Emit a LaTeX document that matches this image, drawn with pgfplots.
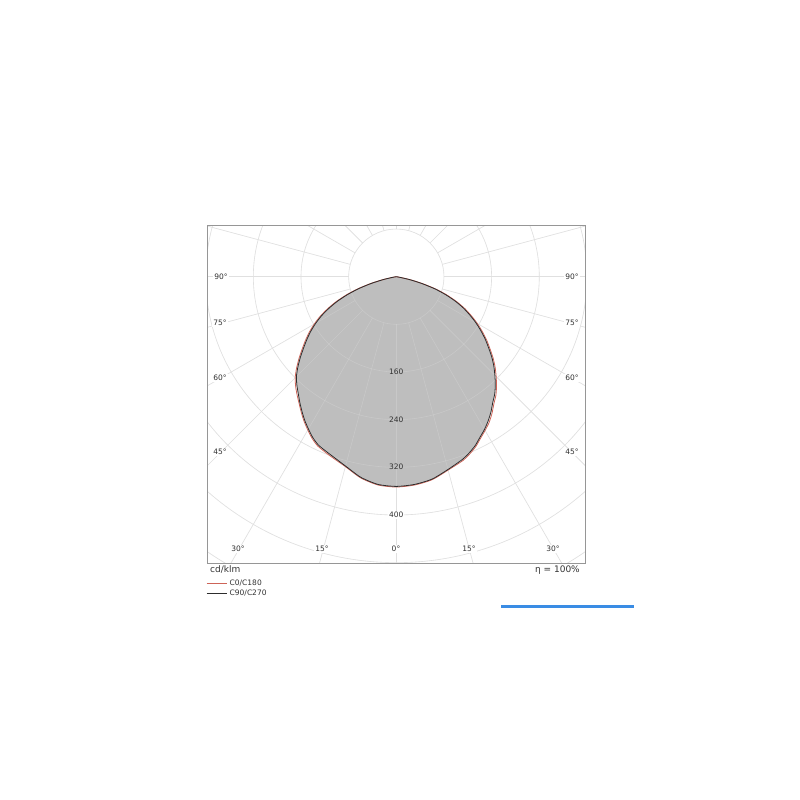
\documentclass[border=0pt]{standalone}
\usepackage{pgfplots}
\pgfplotsset{compat=1.18}
\usepackage{pgfplotstable}
\usepackage{fontspec}
\setmainfont{DejaVu Sans}
\definecolor{gridc}{RGB}{224,224,224}
\definecolor{fillc}{RGB}{190,190,190}
\definecolor{redc}{RGB}{205,100,88}
\definecolor{blackc}{RGB}{45,45,45}
\definecolor{framec}{RGB}{150,150,150}
\definecolor{txtc}{RGB}{50,50,50}
\definecolor{bluec}{RGB}{58,140,228}

% C90/C270 (black)
\pgfplotstableread{
a I
-82.5 0
-80 6
-77.5 22
-75 43
-72.5 65
-70 86
-67.5 106
-65 124
-62.5 141
-60 156
-57.5 170
-55 183
-52.5 196
-50 210
-47.5 224
-45 237
-42.5 247
-40 256
-37.5 266
-35 276
-32.5 286
-30 295
-27.5 304
-25 311
-22.5 315
-20 319
-15 329
-10 342
-5 350
0 352
5 350
10 345
15 335
20 326
22.5 320
25 313
27.5 304
30 296
32.5 287
35 277
37.5 266
40 257
42.5 246
45 234
47.5 222
50 209
52.5 195
55 182
57.5 168
60 154
62.5 139
65 124
67.5 107
70 88
72.5 68
75 45
77.5 24
80 6
82.5 0
}\cblack

% C0/C180 (red)
\pgfplotstableread{
a I
-82.5 0
-80 7
-77.5 24
-75 45
-72.5 68
-70 89
-67.5 109
-65 127
-62.5 144
-60 159
-57.5 173
-55 186
-52.5 199
-50 213
-47.5 227
-45 240
-42.5 250
-40 259
-37.5 268
-35 278
-32.5 288
-30 297
-27.5 306
-25 313
-22.5 317
-20 321
-15 330
-10 343
-5 351
0 353
5 351
10 346
15 336
20 328
22.5 322
25 315
27.5 306
30 298
32.5 290
35 280
37.5 269
40 260
42.5 249
45 237
47.5 225
50 212
52.5 198
55 185
57.5 171
60 157
62.5 142
65 127
67.5 110
70 91
72.5 71
75 47
77.5 26
80 7
82.5 0
}\cred

\pgfplotsset{
  polarbox/.style={
    at={(207.7pt,236.7pt)}, anchor=south west,
    scale only axis, width=377.6pt, height=337.6pt,
    xmin=-316.5, xmax=317.2, ymin=-481, ymax=85.6,
    xtick=\empty, ytick=\empty,
  }
}

\newcommand{\polargrid}[1]{%
\begin{scope}[opacity=#1]
\clip (207.7pt,236.7pt) rectangle (585.3pt,574.3pt);
\foreach \k in {1,...,8} {
  \draw[gridc, line width=0.6pt] (396.3pt,523.3pt) circle[radius=\k*47.66pt];
}
\foreach \ang in {-90,-75,...,255} {
  \draw[gridc, line width=0.6pt, shift={(396.3pt,523.3pt)}] (\ang:47.66pt) -- (\ang:460pt);
}
\end{scope}}

\begin{document}
\begin{tikzpicture}
% page extent
\path (0pt,0pt) rectangle (800pt,800pt);

% grid below the fill
\polargrid{1}

% fill
\begin{axis}[polarbox, hide axis]
\addplot[draw=none, fill=fillc, smooth, tension=0.4] table[x expr={\thisrow{I}*sin(\thisrow{a})}, y expr={-\thisrow{I}*cos(\thisrow{a})}] {\cblack} -- cycle;
\end{axis}

% faint grid over the fill
\polargrid{0.3}

% curves and frame
\begin{axis}[polarbox, axis line style={framec, line width=0.8pt}]
\addplot[redc, line width=0.8pt, smooth, tension=0.4] table[x expr={\thisrow{I}*sin(\thisrow{a})}, y expr={-\thisrow{I}*cos(\thisrow{a})}] {\cred};
\addplot[blackc, line width=0.8pt, smooth, tension=0.4] table[x expr={\thisrow{I}*sin(\thisrow{a})}, y expr={-\thisrow{I}*cos(\thisrow{a})}] {\cblack};
\end{axis}

% angle labels
\begin{scope}[every node/.style={font=\fontsize{7.5}{9}\selectfont, text=txtc, fill=white, inner sep=1pt}]
\node at (221pt,523.5pt) {90°};
\node at (572pt,523.5pt) {90°};
\node at (220pt,477pt) {75°};
\node at (572pt,477pt) {75°};
\node at (220pt,422pt) {60°};
\node at (572pt,422pt) {60°};
\node at (220pt,348pt) {45°};
\node at (572pt,348pt) {45°};
\node at (238pt,251pt) {30°};
\node at (322pt,251pt) {15°};
\node at (396pt,251pt) {0°};
\node at (469pt,251pt) {15°};
\node at (553pt,251pt) {30°};
\node at (396.3pt,285pt) {400};
\end{scope}
\begin{scope}[every node/.style={font=\fontsize{7.5}{9}\selectfont, text=txtc, inner sep=1pt}]
\node at (396.3pt,428pt) {160};
\node at (396.3pt,380pt) {240};
\node at (396.3pt,333pt) {320};
\end{scope}

% unit, efficiency
\node[anchor=west, font=\fontsize{9}{11}\selectfont, text=txtc, inner sep=0pt] at (210pt,230pt) {cd/klm};
\node[anchor=east, font=\fontsize{9}{11}\selectfont, text=txtc, inner sep=0pt] at (580pt,230pt) {η = 100\%};

% legend
\draw[redc, line width=0.7pt] (206.7pt,216.7pt) -- (226.7pt,216.7pt);
\node[anchor=west, font=\fontsize{7.5}{9}\selectfont, text=txtc, inner sep=0pt] at (229.5pt,216.7pt) {C0/C180};
\draw[blackc, line width=0.7pt] (206.7pt,206.7pt) -- (226.7pt,206.7pt);
\node[anchor=west, font=\fontsize{7.5}{9}\selectfont, text=txtc, inner sep=0pt] at (229.5pt,206.7pt) {C90/C270};

% blue bar
\fill[bluec] (500.7pt,192pt) rectangle (634pt,195pt);
\end{tikzpicture}
\end{document}
